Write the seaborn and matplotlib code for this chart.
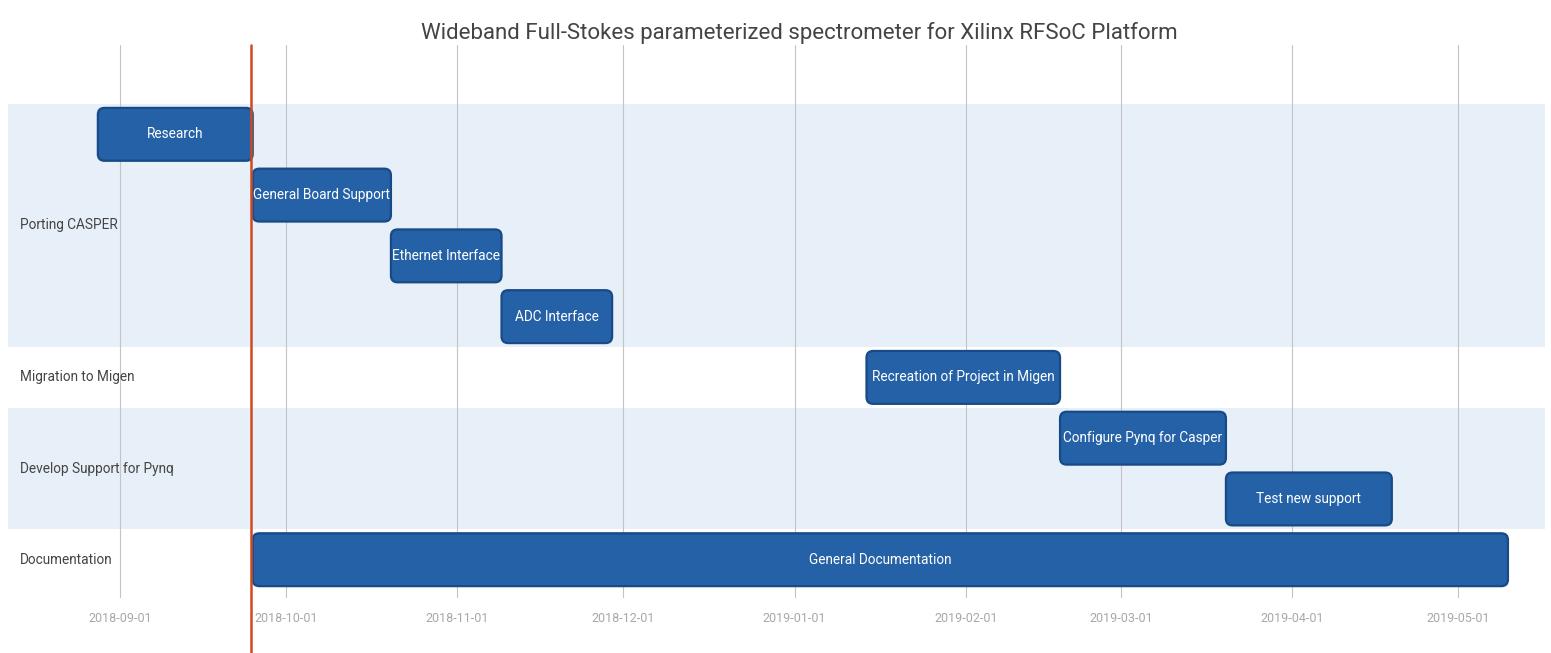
import pandas as pd
import seaborn as sns
import matplotlib.pyplot as plt
import matplotlib.dates as mdates
from matplotlib.patches import FancyBboxPatch
from matplotlib.transforms import blended_transform_factory

# Gantt data
title = "Wideband Full-Stokes parameterized spectrometer for Xilinx RFSoC Platform"
tasks = ["Research", "General Board Support", "Ethernet Interface", "ADC Interface",
         "Recreation of Project in Migen", "Configure Pynq for Casper", "Test new support",
         "General Documentation"]
groups = ["Porting CASPER", "Porting CASPER", "Porting CASPER", "Porting CASPER",
          "Migration to Migen", "Develop Support for Pynq", "Develop Support for Pynq",
          "Documentation"]
starts = ["2018-08-28", "2018-09-25", "2018-10-20", "2018-11-09",
          "2019-01-14", "2019-02-18", "2019-03-20", "2018-09-25"]
ends = ["2018-09-25", "2018-10-20", "2018-11-09", "2018-11-29",
        "2019-02-18", "2019-03-20", "2019-04-19", "2019-05-10"]
today = "2018-09-24 18:00"
month_ticks = ["2018-09-01", "2018-10-01", "2018-11-01", "2018-12-01", "2019-01-01",
               "2019-02-01", "2019-03-01", "2019-04-01", "2019-05-01"]

df = pd.DataFrame({"task": tasks, "group": groups,
                   "start": pd.to_datetime(starts), "end": pd.to_datetime(ends)})
df["start_num"] = mdates.date2num(df["start"])
df["days"] = (df["end"] - df["start"]).dt.days

sns.set_theme(style="white")
plt.rcParams["font.family"] = ["Roboto", "DejaVu Sans"]

fig = plt.figure(figsize=(15.51, 6.53), dpi=100)
ax = fig.add_axes([8 / 1551, 1 - 598 / 653, 1537 / 1551, 553 / 653])

bar_color = "#2461a6"
sns.barplot(data=df, x="days", y="task", orient="h", color=bar_color,
            width=0.87, ax=ax, saturation=1)

# move each bar to its start date and give it rounded corners
bars = list(ax.patches)
for bar, (_, row) in zip(bars, df.iterrows()):
    y, h = bar.get_y(), bar.get_height()
    bar.remove()
    box = FancyBboxPatch((row["start_num"], y), row["days"], h,
                         boxstyle="round,pad=0,rounding_size=1.2",
                         mutation_aspect=0.091, facecolor=bar_color,
                         edgecolor="#174a86", linewidth=1.6, zorder=3)
    ax.add_patch(box)
    ax.text(row["start_num"] + row["days"] / 2, y + h / 2, row["task"],
            color="white", ha="center", va="center", fontsize=9.8, zorder=4)

# group bands and labels
lab_tr = blended_transform_factory(ax.transAxes, ax.transData)
for i, g in enumerate(pd.unique(df["group"])):
    idx = df.index[df["group"] == g]
    lo, hi = idx.min() - 0.5, idx.max() + 0.5
    if i % 2 == 0:
        ax.axhspan(lo, hi, color="#e7eff9", zorder=0, lw=0)
    ax.text(0.008, (lo + hi) / 2, g, transform=lab_tr, ha="left", va="center",
            fontsize=9.8, color="#444444")

sep1 = mdates.date2num(pd.Timestamp("2018-09-01"))
ax.set_xlim(sep1 - 20.25, sep1 + 257.7)
ax.set_ylim(7.63, -1.47)

ax.set_xticks(mdates.date2num(pd.to_datetime(month_ticks)))
ax.set_xticklabels(month_ticks)
ax.grid(axis="x", color="#c4c4c4", linewidth=0.8, zorder=1)
ax.set_axisbelow(True)
ax.tick_params(axis="x", length=0, pad=10, labelsize=9, labelcolor="#a8a8a8")
ax.set_yticks([])
ax.set_xlabel("")
ax.set_ylabel("")
sns.despine(ax=ax, left=True, bottom=True)

ax.axvline(mdates.date2num(pd.Timestamp(today)), ymin=-0.1, ymax=1, clip_on=False,
           color="#d04a1e", linewidth=1.8, zorder=5)

fig.text(799 / 1551, 1 - 33 / 653, title, ha="center", va="center",
         fontsize=16, color="#444444")

fig.savefig("out.png", dpi=100)
